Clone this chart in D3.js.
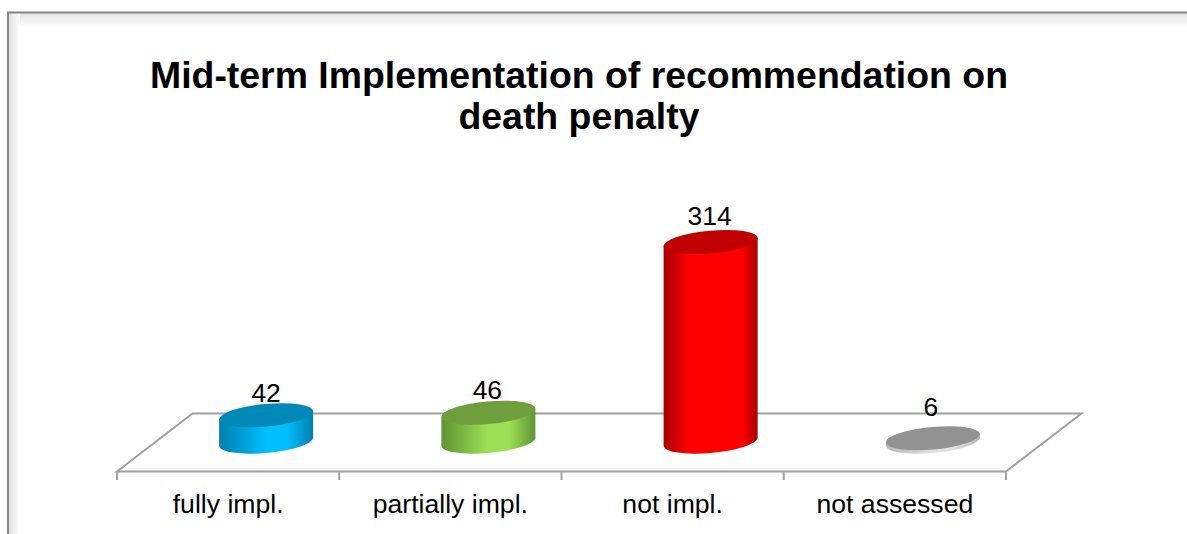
<!DOCTYPE html>
<html><head><meta charset="utf-8">
<script src="https://cdnjs.cloudflare.com/ajax/libs/d3/7.8.5/d3.min.js"></script>
<style>html,body{margin:0;padding:0;background:#fff;overflow:hidden}svg{display:block}text{font-family:"Liberation Sans",Arial,sans-serif;fill:#000}</style>
</head><body><div id="c"></div>
<script>
const titleLines = ["Mid-term Implementation of recommendation on", "death penalty"];
const categories = ["fully impl.", "partially impl.", "not impl.", "not assessed"];
const values = [42, 46, 314, 6];
const edgeColors = ["#007fae", "#5f9433", "#a80000", "#b8b8b8"];
const midColors = ["#00bfff", "#9ee055", "#ff0000", "#e0e0e0"];
const topColors = ["#0088b9", "#6f9e3d", "#c00000", "#929292"];
const gradientStart = [.5, .5, .28, .5];
const gradientEnd = [.72, .72, .84, .72];
const labelLift = [13.5, 14, 17, 22];
const labelShift = [0, -1, -1, -2];

const W = 1187, H = 534;
const svg = d3.select("#c").append("svg").attr("width", W).attr("height", H);
const defs = svg.append("defs");
const floor = {l:117, r:1006, front:471.5, back:413.5, depth:75.5};
const x = d3.scaleBand().domain(categories).range([floor.l, floor.r]);
const y = d3.scaleLinear().domain([0, 314]).range([442, 242]);
const barDx = 38;
const rx = 47.2, ry = 11.3, rot = -5.2, halfW = 47, tangentDy = 4;

const gT = defs.append("linearGradient").attr("id","gT").attr("x1",0).attr("x2",0).attr("y1",0).attr("y2",1);
gT.append("stop").attr("offset",0).attr("stop-color","#e2e2e2");
gT.append("stop").attr("offset",1).attr("stop-color","#fff");
const gL = defs.append("linearGradient").attr("id","gL");
gL.append("stop").attr("offset",0).attr("stop-color","#e2e2e2");
gL.append("stop").attr("offset",1).attr("stop-color","#fff");
svg.append("rect").attr("x",9).attr("y",13).attr("width",W-9).attr("height",14).attr("fill","url(#gT)");
svg.append("rect").attr("x",9).attr("y",13).attr("width",11).attr("height",H-13).attr("fill","url(#gL)");
svg.append("path").attr("d",`M8,${H}V12.5H${W}`).attr("fill","none").attr("stroke","#868686").attr("stroke-width",2);

svg.append("g").selectAll("text").data(titleLines).join("text")
  .attr("x",579).attr("y",(d,i)=>88+i*41).attr("text-anchor","middle")
  .attr("font-size",37.4).attr("font-weight","bold").text(d=>d);

const line = "#a0a0a0";
svg.append("path").attr("fill","none").attr("stroke",line).attr("stroke-width",2)
  .attr("d",`M${floor.l},${floor.front}L${floor.l+floor.depth},${floor.back}H${floor.r+floor.depth}L${floor.r},${floor.front}Z`);
const ticks = categories.map(c=>x(c)).concat(floor.r);
svg.append("g").selectAll("line").data(ticks).join("line")
  .attr("x1",d=>d).attr("x2",d=>d).attr("y1",floor.front).attr("y2",480)
  .attr("stroke",line).attr("stroke-width",2);

categories.forEach((c,i)=>{
  const g = defs.append("linearGradient").attr("id","b"+i);
  [[0,edgeColors[i]],[gradientStart[i],midColors[i]],[gradientEnd[i],midColors[i]],[1,edgeColors[i]]].forEach(s=>
    g.append("stop").attr("offset",s[0]).attr("stop-color",s[1]));
});
const bars = svg.append("g").selectAll("g").data(categories).join("g");
bars.append("path").attr("fill",(d,i)=>`url(#b${i})`).attr("d",(d,i)=>{
  const cx = x(d)+x.bandwidth()/2+barDx, t = y(values[i]), b = y(0);
  return `M${cx-halfW},${t+tangentDy}L${cx-halfW},${b+tangentDy}`+
    `A${rx},${ry} ${rot} 0 0 ${cx+halfW},${b-tangentDy}L${cx+halfW},${t-tangentDy}Z`;
});
bars.append("ellipse").attr("rx",rx).attr("ry",ry).attr("fill",(d,i)=>topColors[i])
  .attr("transform",(d,i)=>`translate(${x(d)+x.bandwidth()/2+barDx},${y(values[i])}) rotate(${rot})`);

svg.append("g").selectAll("text").data(categories).join("text")
  .attr("x",(d,i)=>x(d)+x.bandwidth()/2+barDx+labelShift[i]).attr("y",(d,i)=>y(values[i])-labelLift[i])
  .attr("text-anchor","middle").attr("font-size",26.4).text((d,i)=>values[i]);

svg.append("g").selectAll("text").data(categories).join("text")
  .attr("x",d=>x(d)+x.bandwidth()/2).attr("y",513)
  .attr("text-anchor","middle").attr("font-size",26.6).text(d=>d);
</script></body></html>
